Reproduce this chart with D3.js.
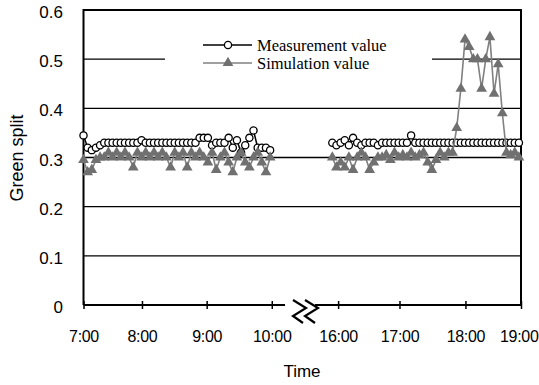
<!DOCTYPE html>
<html>
<head>
<meta charset="utf-8">
<script src="https://cdn.jsdelivr.net/npm/d3@7/dist/d3.min.js"></script>
<style>
  body { margin: 0; background: #fff; }
  text { font-family: "Liberation Sans", Arial, sans-serif; }
</style>
</head>
<body>
<script>
// cycle slots: morning block starts at slot 0, evening block at slot 60
var leftStart = 0, rightStart = 60;

var measLeft = [0.345,0.32,0.315,0.32,0.325,0.33,0.33,0.33,0.33,0.33,0.33,0.33,0.33,0.33,0.335,0.33,0.33,0.33,0.33,0.33,0.33,0.33,0.33,0.33,0.33,0.33,0.33,0.33,0.34,0.34,0.34,0.325,0.33,0.33,0.33,0.34,0.32,0.335,0.31,0.325,0.34,0.355,0.32,0.32,0.32,0.315];
var simLeft = [0.295,0.27,0.275,0.295,0.30,0.30,0.31,0.30,0.31,0.30,0.31,0.30,0.28,0.31,0.30,0.31,0.30,0.31,0.30,0.31,0.30,0.28,0.31,0.30,0.31,0.28,0.31,0.30,0.31,0.30,0.29,0.31,0.275,0.30,0.31,0.29,0.27,0.30,0.31,0.29,0.28,0.30,0.31,0.29,0.27,0.30];

var measRight = [0.33,0.325,0.33,0.335,0.325,0.34,0.33,0.325,0.33,0.33,0.33,0.325,0.33,0.33,0.33,0.33,0.33,0.33,0.33,0.345,0.33,0.33,0.33,0.33,0.33,0.33,0.33,0.33,0.33,0.33,0.33,0.33,0.33,0.33,0.33,0.33,0.33,0.33,0.33,0.33,0.33,0.33,0.33,0.33,0.33,0.33];
var simRight = [0.30,0.28,0.29,0.28,0.30,0.275,0.30,0.31,0.30,0.275,0.29,0.30,0.30,0.305,0.295,0.31,0.30,0.305,0.30,0.31,0.30,0.305,0.31,0.29,0.275,0.295,0.31,0.30,0.31,0.31,0.36,0.44,0.54,0.525,0.50,0.50,0.44,0.50,0.545,0.43,0.49,0.39,0.31,0.305,0.31,0.30];

var tickSlots = [0, 14.1, 29.7, 45.4, 61.4, 76.2, 92.1, 105.5];
var tickLabels = ["7:00","8:00","9:00","10:00","16:00","17:00","18:00","19:00"];
var yTicks = [0, 0.1, 0.2, 0.3, 0.4, 0.5, 0.6];

var width = 539, height = 385;
var x0 = 83.5, x1 = 521, yTop = 10, yBot = 305;
var breakFrom = 285, breakTo = 315;

var x = d3.scaleLinear().domain([0, 105.5]).range([x0, x1]);
var y = d3.scaleLinear().domain([0, 0.6]).range([yBot, yTop]);

var svg = d3.select("body").append("svg")
    .attr("width", width)
    .attr("height", height);

// gridlines
svg.selectAll(".grid")
    .data(yTicks.filter(function(d) { return d > 0 && d < 0.6; }))
    .enter().append("line")
    .attr("x1", x0).attr("x2", x1)
    .attr("y1", function(d) { return y(d); })
    .attr("y2", function(d) { return y(d); })
    .attr("stroke", "#000").attr("stroke-width", 1.4);

// y labels
svg.selectAll(".ylab")
    .data(yTicks)
    .enter().append("text")
    .attr("x", 63)
    .attr("y", function(d) { return y(d) + 8; })
    .attr("text-anchor", "end")
    .style("font-size", "17px")
    .text(function(d) { return d === 0 ? "0" : d.toFixed(1); });

// frame
var frame = svg.append("g").attr("stroke", "#000").attr("stroke-width", 2).attr("fill", "none");
frame.append("path").attr("d", "M" + x0 + "," + yBot + "V" + yTop + "H" + x1 + "V" + yBot + "H" + breakTo);
frame.append("path").attr("d", "M" + x0 + "," + yBot + "H" + breakFrom);

// break mark
[293, 305].forEach(function(bx) {
  frame.append("path")
    .attr("d", "M" + bx + ",300 L" + (bx + 13) + ",308 L" + bx + ",316 L" + (bx + 10) + ",323")
    .attr("stroke-width", 2.2);
});

// x axis ticks + labels
var xAxis = d3.axisBottom(x)
    .tickValues(tickSlots)
    .tickFormat(function(d, i) { return tickLabels[i]; })
    .tickSizeOuter(0);

var gx = svg.append("g")
    .attr("transform", "translate(0," + yBot + ")")
    .call(xAxis);
gx.select(".domain").remove();
gx.selectAll(".tick line").attr("y1", -4).attr("y2", 4).attr("stroke-width", 1.5);
gx.selectAll(".tick text")
    .attr("y", 26)
    .attr("dy", "0.71em")
    .style("font-size", "16px")
    .style("letter-spacing", "-0.3px")
    .style("font-family", "'Liberation Sans', Arial, sans-serif")
    .attr("fill", "#000");
// last label sits against the right edge
gx.selectAll(".tick text").filter(function(d, i) { return i === tickSlots.length - 1; })
    .attr("text-anchor", "end")
    .attr("x", 17);

// axis titles
svg.append("text")
    .attr("x", 302).attr("y", 377)
    .attr("text-anchor", "middle")
    .style("font-size", "17px")
    .text("Time");

svg.append("text")
    .attr("transform", "translate(23,158) rotate(-90)")
    .attr("text-anchor", "middle")
    .style("font-size", "18px")
    .text("Green split");

function pts(arr, start) {
  return arr.map(function(v, i) { return {s: start + i, v: v}; });
}

var line = d3.line()
    .x(function(d) { return x(d.s); })
    .y(function(d) { return y(d.v); });

var tri = d3.symbol().type(d3.symbolTriangle).size(50);

var measSegs = [pts(measLeft, leftStart), pts(measRight, rightStart)];
var simSegs = [pts(simLeft, leftStart), pts(simRight, rightStart)];

// measurement series
measSegs.forEach(function(seg) {
  svg.append("path").datum(seg)
      .attr("d", line)
      .attr("fill", "none").attr("stroke", "#000").attr("stroke-width", 1.5);
  svg.append("g").selectAll("circle")
      .data(seg)
      .enter().append("circle")
      .attr("cx", function(d) { return x(d.s); })
      .attr("cy", function(d) { return y(d.v); })
      .attr("r", 3.6)
      .attr("fill", "#fff").attr("stroke", "#000").attr("stroke-width", 1.3);
});

// simulation series
simSegs.forEach(function(seg) {
  svg.append("path").datum(seg)
      .attr("d", line)
      .attr("fill", "none").attr("stroke", "#808080").attr("stroke-width", 1.6);
  svg.append("g").selectAll("path")
      .data(seg)
      .enter().append("path")
      .attr("d", tri)
      .attr("transform", function(d) { return "translate(" + x(d.s) + "," + y(d.v) + ")"; })
      .attr("fill", "#707070");
});

// legend
var lg = svg.append("g");
lg.append("rect").attr("x", 165).attr("y", 33).attr("width", 267).attr("height", 40).attr("fill", "#fff");
lg.append("line").attr("x1", 203).attr("x2", 252).attr("y1", 45).attr("y2", 45)
    .attr("stroke", "#000").attr("stroke-width", 1.5);
lg.append("circle").attr("cx", 228).attr("cy", 45).attr("r", 3.6)
    .attr("fill", "#fff").attr("stroke", "#000").attr("stroke-width", 1.3);
lg.append("line").attr("x1", 203).attr("x2", 252).attr("y1", 63).attr("y2", 63)
    .attr("stroke", "#808080").attr("stroke-width", 1.6);
lg.append("path").attr("d", tri).attr("transform", "translate(228,63)").attr("fill", "#707070");
lg.append("text").attr("x", 257).attr("y", 51)
    .style("font-family", "'Liberation Serif', 'Times New Roman', serif")
    .style("font-size", "16.5px")
    .text("Measurement value");
lg.append("text").attr("x", 257).attr("y", 69)
    .style("font-family", "'Liberation Serif', 'Times New Roman', serif")
    .style("font-size", "16.5px")
    .text("Simulation value");
</script>
</body>
</html>
